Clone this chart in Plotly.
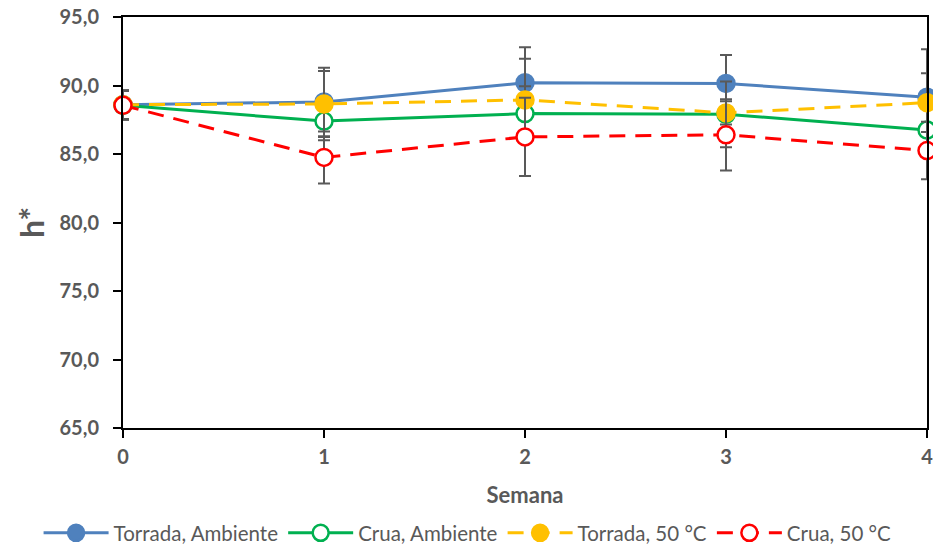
import plotly.graph_objects as go

semanas = [0, 1, 2, 3, 4]
series_names = ["Torrada, Ambiente", "Crua, Ambiente", "Torrada, 50 °C", "Crua, 50 °C"]
torrada_amb = [88.6, 88.8, 90.2, 90.15, 89.15]
torrada_amb_err = [1.05, 2.5, 2.6, 2.07, 3.5]
crua_amb = [88.55, 87.4, 87.95, 87.9, 86.75]
crua_amb_err = [1.05, 1.4, 2.0, 2.4, 1.65]
torrada_50 = [88.6, 88.65, 88.95, 88.0, 88.75]
torrada_50_err = [1.05, 2.4, 3.0, 0.85, 2.15]
crua_50 = [88.55, 84.75, 86.25, 86.4, 85.25]
crua_50_err = [1.05, 1.9, 2.85, 2.6, 2.1]

colors = ["#4F81BD", "#00B050", "#FFC000", "#FF0000"]
values = [torrada_amb, crua_amb, torrada_50, crua_50]
errors = [torrada_amb_err, crua_amb_err, torrada_50_err, crua_50_err]
dashes = ["solid", "solid", "16px,10px", "16px,10px"]
filled = [True, False, True, False]

fig = go.Figure()
for name, y, e, c, d, f in zip(series_names, values, errors, colors, dashes, filled):
    fig.add_trace(go.Scatter(
        x=semanas, y=y, name=name, mode="lines+markers",
        line=dict(color=c, width=3, dash=d),
        marker=dict(size=17, color=c if f else "white",
                    line=dict(color=c, width=2.5)),
        error_y=dict(type="data", array=e, visible=True,
                     color="#595959", thickness=2, width=6),
        cliponaxis=False,
    ))

font_family = "Lato, Carlito, sans-serif"
fig.update_layout(
    width=933, height=546,
    margin=dict(l=123, r=6, t=17, b=118, autoexpand=False),
    plot_bgcolor="white", paper_bgcolor="white",
    separators=", ",
    font=dict(family=font_family, color="#595959"),
    xaxis=dict(
        range=[0, 4], tickvals=semanas, ticktext=[str(s) for s in semanas],
        showline=True, linecolor="black", linewidth=2, mirror=True,
        ticks="outside", ticklen=8, tickwidth=2, tickcolor="black",
        ticklabelstandoff=2, ticklabeloverflow="allow",
        showgrid=False, zeroline=False, automargin=False,
        tickfont=dict(size=20, family=font_family, color="#595959", weight="bold"),
        title=dict(text="<b>Semana</b>", font=dict(size=22, color="#595959"), standoff=21),
    ),
    yaxis=dict(
        range=[65, 95], dtick=5, tickformat=".1f",
        showline=True, linecolor="black", linewidth=2, mirror=True,
        ticks="outside", ticklen=8, tickwidth=2, tickcolor="black",
        ticklabelstandoff=10,
        showgrid=False, zeroline=False, automargin=False,
        tickfont=dict(size=20, family=font_family, color="#595959", weight="bold"),
        title=dict(text="<b>h*</b>", font=dict(size=32, color="#595959"), standoff=5),
    ),
    legend=dict(
        orientation="h", xref="paper", yref="paper",
        x=-0.105, xanchor="left", y=-0.2555, yanchor="middle",
        font=dict(size=20.5, family=font_family, color="#595959"),
        itemwidth=65, tracegroupgap=0,
    ),
    showlegend=True,
)

fig.write_html("out.html")
